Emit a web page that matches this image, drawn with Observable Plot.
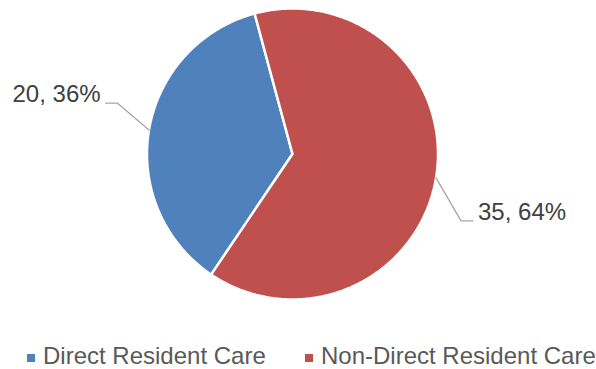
<!DOCTYPE html>
<html>
<head>
<meta charset="utf-8">
<script src="https://cdn.jsdelivr.net/npm/d3@7"></script>
<script src="https://cdn.jsdelivr.net/npm/@observablehq/plot@0.6"></script>
<style>
  html, body { margin: 0; padding: 0; background: #fff; }
  #wrap { position: relative; width: 596px; height: 369px; overflow: hidden; font-family: "Liberation Sans", Arial, sans-serif; }
  #legend { position: absolute; left: 0; top: 339px; width: 596px; height: 34px; line-height: 34px; font-size: 24px; color: #595959; white-space: nowrap; }
  .sw { position: absolute; width: 8px; height: 8px; top: 15px; }
  .lt { position: absolute; top: 0; }
</style>
</head>
<body>
<div id="wrap"><div id="chart"></div><div id="legend"></div></div>
<script>
// ---- data ----
const categories = ["Direct Resident Care", "Non-Direct Resident Care"];
const values = [20, 35];
const colors = ["#4F81BD", "#C0504D"];

// ---- layout constants (styling, not data) ----
const W = 596, H = 335;
const cx = 292, cy = 153.5, R = 145.5;
const startAngle = 214; // degrees clockwise from 12 o'clock (Excel rotation)
const labelLayout = [
  { elbow: [-31.7, -27], hlen: 11.7, gap: 5, side: -1, textDy: -8.6 },
  { elbow: [25, 43], hlen: 12, gap: 5, side: 1, textDy: -8.6 }
];
const px = 1 / R; // data units per pixel

const total = d3.sum(values);
let acc = startAngle;
const slices = categories.map((name, i) => {
  const span = values[i] / total * 360;
  const s = { name, value: values[i], a0: acc, a1: acc + span, pct: Math.round(values[i] / total * 100) };
  acc += span;
  return s;
});

const rad = a => a * Math.PI / 180;
const polyPts = [];
for (const s of slices) {
  polyPts.push({ name: s.name, x: 0, y: 0 });
  const n = Math.ceil((s.a1 - s.a0) / 0.5);
  for (let k = 0; k <= n; k++) {
    const a = s.a0 + (s.a1 - s.a0) * k / n;
    polyPts.push({ name: s.name, x: Math.sin(rad(a)), y: Math.cos(rad(a)) });
  }
  polyPts.push({ name: s.name, x: 0, y: 0 });
}

const leaderPts = [];
const labels = [];
slices.forEach((s, i) => {
  const m = (s.a0 + s.a1) / 2;
  const L = labelLayout[i];
  const ex = Math.sin(rad(m)), ey = Math.cos(rad(m));
  const bx = ex + L.elbow[0] * px, by = ey - L.elbow[1] * px;
  const tx = bx + L.side * L.hlen * px;
  leaderPts.push({ id: i, x: ex, y: ey }, { id: i, x: bx, y: by }, { id: i, x: tx, y: by });
  labels.push({ x: tx + L.side * L.gap * px, y: by - L.textDy * px, text: `${s.value}, ${s.pct}%`, anchor: L.side < 0 ? "end" : "start" });
});

const chart = Plot.plot({
  width: W, height: H,
  marginLeft: cx - R, marginRight: W - (cx + R),
  marginTop: cy - R, marginBottom: H - (cy + R),
  x: { domain: [-1, 1], axis: null },
  y: { domain: [-1, 1], axis: null },
  color: { domain: categories, range: colors },
  style: { fontFamily: "Liberation Sans, Arial, sans-serif", background: "#fff", overflow: "visible" },
  marks: [
    Plot.line(polyPts, { x: "x", y: "y", z: "name", fill: "name", stroke: "white", strokeWidth: 2.5, strokeLinejoin: "round" }),
    Plot.line(leaderPts, { x: "x", y: "y", z: "id", stroke: "#A6A6A6", strokeWidth: 1.3 }),
    Plot.text(labels.filter(d => d.anchor === "end"), { x: "x", y: "y", text: "text", textAnchor: "end", fontSize: 24, fill: "#404040" }),
    Plot.text(labels.filter(d => d.anchor === "start"), { x: "x", y: "y", text: "text", textAnchor: "start", fontSize: 24, fill: "#404040" })
  ]
});
document.getElementById("chart").appendChild(chart);

// legend
const legendLayout = [{ sw: 27, tx: 43 }, { sw: 305, tx: 321 }];
const leg = document.getElementById("legend");
categories.forEach((c, i) => {
  const sw = document.createElement("span");
  sw.className = "sw"; sw.style.left = legendLayout[i].sw + "px"; sw.style.background = colors[i];
  const t = document.createElement("span");
  t.className = "lt"; t.style.left = legendLayout[i].tx + "px"; t.textContent = c;
  leg.appendChild(sw); leg.appendChild(t);
});
</script>
</body>
</html>
